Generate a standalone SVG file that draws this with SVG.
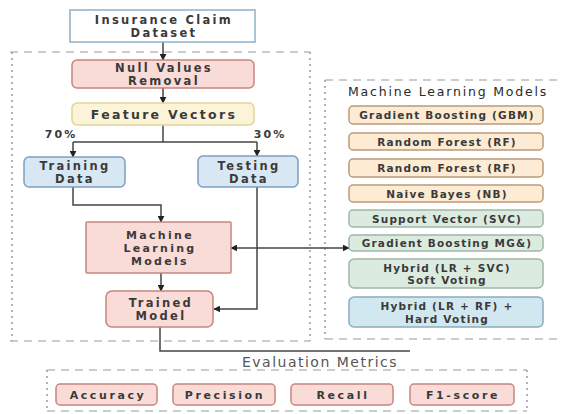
<svg xmlns="http://www.w3.org/2000/svg" width="561" height="414" viewBox="0 0 561 414">
<style>
.t{font-family:"DejaVu Sans","Liberation Sans",sans-serif;font-weight:bold;fill:#3a3a3a;text-anchor:middle;dominant-baseline:central}
.s{font-size:11.5px;letter-spacing:2.3px}
.m{font-size:10.5px;letter-spacing:1.2px}
.b{font-size:11px;letter-spacing:2.6px}
.pink{fill:#f9dcd8;stroke:#c8847d;stroke-width:1.5}
.yel{fill:#fcf4d8;stroke:#e3d399;stroke-width:1.5}
.blue{fill:#d8e7f4;stroke:#7f9fbe;stroke-width:1.5}
.org{fill:#fdebd3;stroke:#b99b7a;stroke-width:1.5}
.grn{fill:#dcebe0;stroke:#9db7a5;stroke-width:1.5}
.hb{fill:#d2e8f1;stroke:#8cacbd;stroke-width:1.5}
.dh{stroke:#9a9a9a;stroke-width:1.2;stroke-dasharray:8 6;fill:none}
.dv{stroke:#9a9a9a;stroke-width:1.5;stroke-dasharray:2 4;fill:none}
.c{stroke:#444;stroke-width:1.5;fill:none}
</style>
<defs>
<marker id="ah" viewBox="0 0 10 10" refX="9" refY="5" markerWidth="7" markerHeight="7" orient="auto-start-reverse" markerUnits="userSpaceOnUse">
<path d="M0,0 L10,5 L0,10 z" fill="#222"/>
</marker>
</defs>
<rect width="561" height="414" fill="#fff"/>
<g id="groups">
<line class="dh" x1="10" y1="52" x2="310" y2="52"/>
<line class="dv" x1="12" y1="52" x2="12" y2="341"/>
<line class="dv" x1="310" y1="52" x2="310" y2="341"/>
<line class="dh" x1="10" y1="341" x2="310" y2="341"/>
<line class="dh" x1="325" y1="80" x2="561" y2="80"/>
<line class="dv" x1="325" y1="80" x2="325" y2="339"/>
<line class="dh" x1="325" y1="339" x2="561" y2="339"/>
<line class="dh" x1="47" y1="370" x2="527" y2="370"/>
<line class="dv" x1="47" y1="370" x2="47" y2="411"/>
<line class="dv" x1="527" y1="370" x2="527" y2="411"/>
<line class="dh" x1="47" y1="411" x2="527" y2="411"/>
</g>
<g id="connectors">
<line class="c" x1="163" y1="42" x2="163" y2="60" marker-end="url(#ah)"/>
<line class="c" x1="163" y1="88" x2="163" y2="103" marker-end="url(#ah)"/>
<polyline class="c" points="163,125 163,142"/>
<polyline class="c" points="73,142 257,142"/>
<line class="c" x1="73" y1="142" x2="73" y2="157" marker-end="url(#ah)"/>
<line class="c" x1="257" y1="142" x2="257" y2="156" marker-end="url(#ah)"/>
<polyline class="c" points="73,187 73,205 161,205 161,222" marker-end="url(#ah)"/>
<polyline class="c" points="257,187 257,309 214,309" marker-end="url(#ah)"/>
<line class="c" x1="161" y1="273" x2="161" y2="291" marker-end="url(#ah)"/>
<line class="c" x1="231" y1="248" x2="349" y2="248" marker-start="url(#ah)" marker-end="url(#ah)"/>
<polyline class="c" points="160,327 160,351 410,351"/>
</g>
<g id="dataset">
<rect x="70" y="10" width="185" height="32" fill="#fff" stroke="#8fb0c8" stroke-width="1.5"/>
<text class="t s" x="164" y="19.5">Insurance Claim</text>
<text class="t s" x="164" y="33">Dataset</text>
</g>
<g id="null">
<rect class="pink" x="72" y="60" width="182" height="28" rx="5"/>
<text class="t s" x="164" y="67.5">Null Values</text>
<text class="t s" x="164" y="80.5">Removal</text>
</g>
<g id="feature">
<rect class="yel" x="72" y="103" width="182" height="22" rx="5"/>
<text class="t s" x="164" y="114" style="font-size:12.5px">Feature Vectors</text>
</g>
<text class="t" x="61" y="134" style="font-size:11px;letter-spacing:2px">70%</text>
<text class="t" x="270" y="134" style="font-size:11px;letter-spacing:2px">30%</text>
<g id="training">
<rect class="blue" x="24" y="157" width="101" height="30" rx="5"/>
<text class="t s" x="75" y="165.5">Training</text>
<text class="t s" x="75" y="178.5">Data</text>
</g>
<g id="testing">
<rect class="blue" x="198" y="156" width="100" height="31" rx="5"/>
<text class="t s" x="249" y="165.5">Testing</text>
<text class="t s" x="249" y="178.5">Data</text>
</g>
<g id="ml">
<rect class="pink" x="86" y="222" width="145" height="51" rx="1"/>
<text class="t s" x="160" y="235" style="font-size:11px">Machine</text>
<text class="t s" x="160" y="248" style="font-size:11px">Learning</text>
<text class="t s" x="160" y="261" style="font-size:11px">Models</text>
</g>
<g id="trained">
<rect class="pink" x="106" y="291" width="107" height="36" rx="6"/>
<text class="t s" x="161" y="302.5">Trained</text>
<text class="t s" x="161" y="316">Model</text>
</g>
<g id="mlpanel">
<text x="448" y="91" font-family="DejaVu Sans, sans-serif" font-size="12.5" letter-spacing="1.8" fill="#2a2a2a" text-anchor="middle" dominant-baseline="central">Machine Learning Models</text>
<rect class="org" x="349" y="106" width="194" height="18" rx="4"/>
<text class="t m" x="447" y="115">Gradient Boosting (GBM)</text>
<rect class="org" x="349" y="133" width="194" height="17" rx="4"/>
<text class="t m" x="447" y="142">Random Forest (RF)</text>
<rect class="org" x="349" y="159" width="194" height="18" rx="4"/>
<text class="t m" x="447" y="168">Random Forest (RF)</text>
<rect class="org" x="349" y="185" width="194" height="17" rx="4"/>
<text class="t m" x="447" y="194">Naive Bayes (NB)</text>
<rect class="grn" x="349" y="210" width="194" height="17" rx="4"/>
<text class="t m" x="447" y="219">Support Vector (SVC)</text>
<rect class="grn" x="349" y="235" width="194" height="16" rx="4"/>
<text class="t m" x="447" y="243">Gradient Boosting MG&amp;)</text>
<rect class="grn" x="349" y="259" width="194" height="29" rx="5"/>
<text class="t m" x="447" y="267.5">Hybrid (LR + SVC)</text>
<text class="t m" x="447" y="280">Soft Voting</text>
<rect class="hb" x="349" y="297" width="194" height="30" rx="5"/>
<text class="t m" x="447" y="306">Hybrid (LR + RF)  +</text>
<text class="t m" x="447" y="319">Hard Voting</text>
</g>
<g id="metrics">
<text x="320" y="362" font-family="DejaVu Sans, sans-serif" font-size="14" letter-spacing="1.5" fill="#555" text-anchor="middle" dominant-baseline="central">Evaluation Metrics</text>
<rect class="pink" x="56" y="384" width="101" height="21" rx="4"/>
<text class="t b" x="108" y="395">Accuracy</text>
<rect class="pink" x="173" y="384" width="102" height="21" rx="4"/>
<text class="t b" x="225" y="395">Precision</text>
<rect class="pink" x="291" y="384" width="102" height="21" rx="4"/>
<text class="t b" x="343" y="395">Recall</text>
<rect class="pink" x="410" y="384" width="104" height="21" rx="4"/>
<text class="t b" x="463" y="395">F1-score</text>
</g>
</svg>
